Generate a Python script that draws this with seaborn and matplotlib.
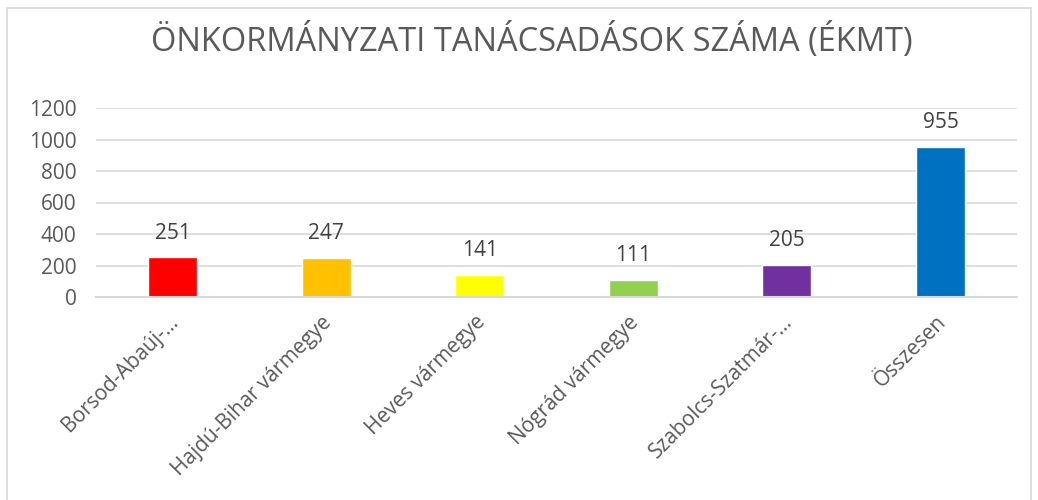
import numpy as np
import pandas as pd
import matplotlib
matplotlib.use('Agg')
import matplotlib.pyplot as plt
import seaborn as sns
from matplotlib.patches import Rectangle

CATEGORIES = ['Borsod-Abaúj-…', 'Hajdú-Bihar vármegye', 'Heves vármegye',
              'Nógrád vármegye', 'Szabolcs-Szatmár-…', 'Összesen']
VALUES = [251, 247, 141, 111, 205, 955]
COLORS = ['#FF0000', '#FFC000', '#FFFF00', '#92D050', '#7030A0', '#0070C0']
Y_TICKS = [0, 200, 400, 600, 800, 1000, 1200]
TITLE = 'ÖNKORMÁNYZATI TANÁCSADÁSOK SZÁMA (ÉKMT)'

sns.set_style('white')
plt.rcParams['font.family'] = ['Open Sans', 'DejaVu Sans']

df = pd.DataFrame({'cat': CATEGORIES, 'val': VALUES})

fig = plt.figure(figsize=(10.38, 5.0), dpi=100)
ax = fig.add_axes([0.0925, 0.406, 0.8875, 0.378])

sns.barplot(data=df, x='cat', y='val', hue='cat', palette=COLORS,
            width=0.32, legend=False, ax=ax, saturation=1)

ax.set_ylim(0, 1200)
ax.set_yticks(Y_TICKS)
ax.yaxis.grid(True, color='#d9d9d9', linewidth=1.2)
ax.set_axisbelow(True)
for s in ['top', 'right', 'left']:
    ax.spines[s].set_visible(False)
ax.spines['bottom'].set_color('#d9d9d9')
ax.spines['bottom'].set_linewidth(1.5)
ax.tick_params(axis='both', length=0, colors='#595959', labelsize=15)
ax.tick_params(axis='y', pad=14)
ax.set_xlabel('')
ax.set_ylabel('')
ax.set_xticks(range(len(CATEGORIES)))
ax.set_xticklabels(CATEGORIES, rotation=45, ha='right', rotation_mode='anchor')
for lbl in ax.get_xticklabels():
    lbl.set_transform(lbl.get_transform() +
                      matplotlib.transforms.ScaledTranslation(-0.05, -0.10, fig.dpi_scale_trans))

for i, v in enumerate(VALUES):
    ax.annotate(str(v), (i, v), xytext=(0, 10), textcoords='offset points',
                ha='center', va='bottom', fontsize=15, color='#404040')

fig.text(532 / 1038, 0.918, TITLE, ha='center', va='center', fontsize=23.5,
         color='#595959', family=['Open Sans', 'DejaVu Sans'])

fig.patches.append(Rectangle((7 / 1038, -0.1), 1024 / 1038, 1.1 - 8 / 500,
                             transform=fig.transFigure, fill=False,
                             edgecolor='#d9d9d9', linewidth=1.2))

fig.savefig('out.png', dpi=100)
